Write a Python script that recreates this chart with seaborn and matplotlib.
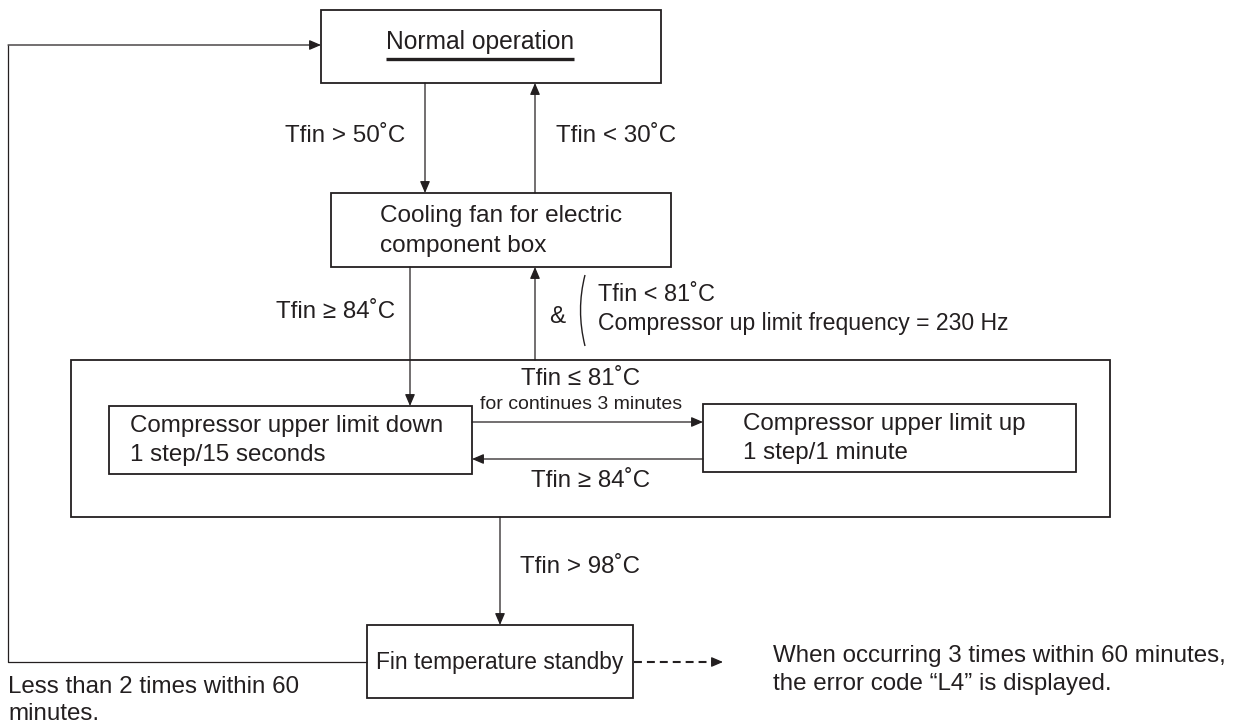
import matplotlib
matplotlib.use("Agg")
import matplotlib.pyplot as plt
import seaborn as sns
from matplotlib.patches import Rectangle, PathPatch
from matplotlib.path import Path

sns.set_theme(style="white")
plt.rcParams['font.family'] = ['Liberation Sans', 'DejaVu Sans']

# ---- text content ----
box_labels = ["Normal operation",
              ["Cooling fan for electric", "component box"],
              ["Compressor upper limit down", "1 step/15 seconds"],
              ["Compressor upper limit up", "1 step/1 minute"],
              "Fin temperature standby"]
cond_labels = ["Tfin > 50˚C", "Tfin < 30˚C", "Tfin ≥ 84˚C",
               ["Tfin < 81˚C", "Compressor up limit frequency = 230 Hz"],
               "Tfin ≤ 81˚C", "for continues 3 minutes", "Tfin ≥ 84˚C", "Tfin > 98˚C"]
amp_label = "&"
note_right = ["When occurring 3 times within 60 minutes,",
              "the error code “L4” is displayed."]
note_left = ["Less than 2 times within 60", "minutes."]

# ---- drawing ----
INK = "#231f20"
FS = 17.4
fig = plt.figure(figsize=(12.4, 7.25), dpi=100)
ax = fig.add_axes([0, 0, 1, 1])
ax.set_xlim(0, 1240)
ax.set_ylim(725, 0)
ax.axis("off")


def box(x0, y0, x1, y1, lw=1.3):
    ax.add_patch(Rectangle((x0, y0), x1 - x0, y1 - y0, fill=False,
                           edgecolor=INK, lw=lw))


def arrow(p0, p1, lw=0.9):
    ax.annotate("", xy=p1, xytext=p0,
                arrowprops=dict(arrowstyle="-|>,head_length=0.7,head_width=0.3",
                                mutation_scale=10, lw=lw, color=INK,
                                shrinkA=0, shrinkB=0))


def line(xs, ys, lw=0.9, ls="-"):
    ax.plot(xs, ys, color=INK, lw=lw, ls=ls, solid_capstyle="butt",
            dash_capstyle="butt")


def txt(x, y, s, ha="left", fs=FS):
    ax.text(x, y, s, ha=ha, va="center", fontsize=fs, color=INK)


# boxes
box(321, 10, 661, 83)
box(331, 193, 671, 267)
box(71, 360, 1110, 517)
box(109, 406, 472, 474)
box(703, 404, 1076, 472)
box(367, 625, 633, 698)

# box texts
txt(386, 42, box_labels[0], fs=17.7)
line([386, 574], [59, 59], lw=2.4)
txt(380, 216, box_labels[1][0], fs=17.6)
txt(380, 246, box_labels[1][1], fs=17.6)
txt(130, 426, box_labels[2][0])
txt(130, 455, box_labels[2][1])
txt(743, 424, box_labels[3][0])
txt(743, 453, box_labels[3][1])
txt(500, 663, box_labels[4], ha="center", fs=16.4)

# arrows
arrow((8, 45), (321, 45))
arrow((425, 83), (425, 193))
arrow((535, 193), (535, 83))
arrow((410, 267), (410, 406))
arrow((535, 360), (535, 267))
arrow((472, 422), (703, 422))
arrow((703, 459), (472, 459))
arrow((500, 517), (500, 625))
line([634, 714], [662, 662], lw=1.5, ls=(0, (3.8, 2.4)))
arrow((712, 662), (723, 662))
line([367, 8, 8], [662, 662, 45])

# condition labels
txt(405, 136, cond_labels[0], ha="right")
txt(556, 136, cond_labels[1])
txt(395, 312, cond_labels[2], ha="right")
txt(598, 294, cond_labels[3][0], fs=16.9)
txt(598, 323, cond_labels[3][1], fs=16.6)
txt(557, 317, amp_label, ha="center")
bracket = Path([(585, 275), (576, 310), (585, 346)],
               [Path.MOVETO, Path.CURVE3, Path.CURVE3])
ax.add_patch(PathPatch(bracket, fill=False, edgecolor=INK, lw=1.0))
txt(581, 379, cond_labels[4], ha="center")
txt(581, 404, cond_labels[5], ha="center", fs=14)
txt(591, 481, cond_labels[6], ha="center")
txt(520, 567, cond_labels[7])

# notes
txt(773, 656, note_right[0])
txt(773, 684, note_right[1])
txt(8, 687, note_left[0])
txt(8, 714, note_left[1])

fig.savefig("out.png", dpi=100, facecolor="white")
